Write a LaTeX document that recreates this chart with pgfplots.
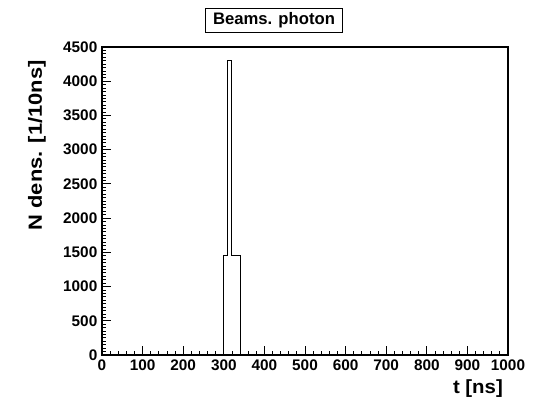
\documentclass[border=0pt]{standalone}
\usepackage{fontspec}
\setmainfont{Liberation Sans}
\newfontfamily\ylfont[FakeStretch=1.15]{Liberation Sans}
\newfontfamily\xlfont[FakeStretch=1.07]{Liberation Sans}
\usepackage{pgfplots}
\pgfplotsset{compat=1.18}
\begin{document}
\begin{tikzpicture}
\path[use as bounding box] (0pt,0pt) rectangle (402.75pt,301.5pt);
\begin{axis}[
  at={(76.5pt,35.25pt)}, anchor=south west,
  scale only axis, width=304.5pt, height=231pt,
  xmin=0, xmax=1000, ymin=0, ymax=4500,
  xtick distance=100, ytick distance=500,
  minor x tick num=4, minor y tick num=9,
  xtick pos=left, ytick pos=left,
  tick align=inside,
  major tick length=6.5pt, minor tick length=3pt,
  every tick/.style={black, line width=0.6pt},
  axis line style={line width=0.9pt},
  scaled ticks=false,
  /pgf/number format/assume math mode=true,
  /pgf/number format/1000 sep={},
  tick label style={font=\fontsize{11.5}{13}\selectfont\bfseries},
  xlabel={t [ns]}, ylabel={N dens. [1/10ns]},
  label style={inner sep=0pt},
  xlabel style={font=\xlfont\fontsize{14.3}{16}\selectfont\bfseries, at={(axis description cs:0.988,-0.078)}, anchor=north east},
  ylabel style={font=\ylfont\fontsize{14.3}{16}\selectfont\bfseries, at={(axis description cs:-0.160,0.958)}, anchor=east, rotate=0},
]
\addplot[const plot mark left, black, line width=0.7pt] coordinates {
  (0,0) (300,1450) (310,4300) (320,1450) (340,0) (1000,0)
};
\end{axis}
\node[draw, line width=0.8pt, inner xsep=6pt, inner ysep=3pt, font=\fontsize{12.5}{14}\selectfont\bfseries] at (205.5pt,286pt) {Beams. photon};
\end{tikzpicture}
\end{document}
